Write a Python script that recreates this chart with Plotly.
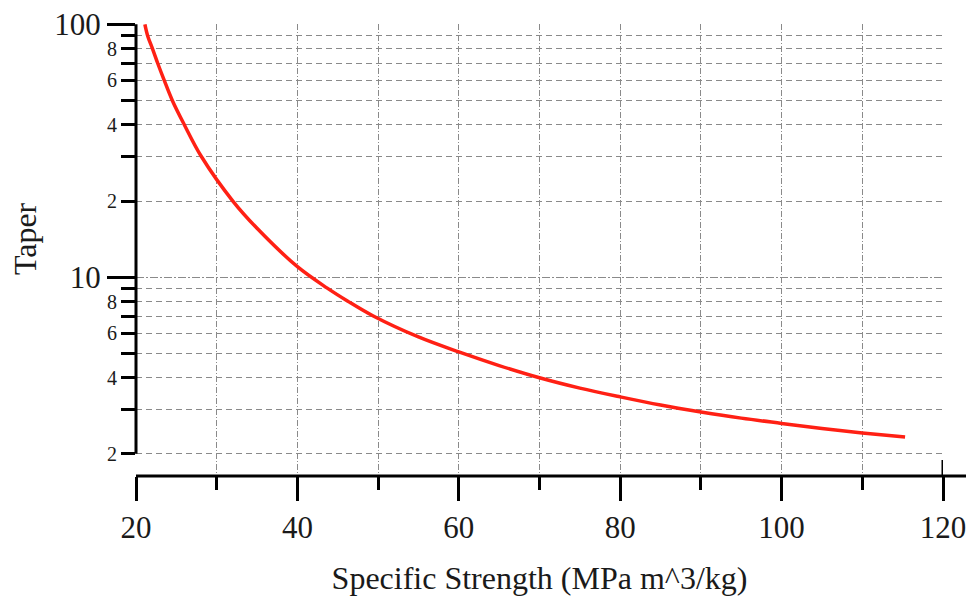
import math
import plotly.graph_objects as go

# ---- data ----
specific_strength = [21.1, 21.45, 22.05, 22.7, 23.5, 24.5, 26.0, 28.1, 32.0, 35, 40,
                     43.7, 46.2, 49.4, 55, 60, 65, 70, 75, 80, 85, 90, 95, 100, 105, 110, 115.3]
taper = [100, 90, 80, 70, 60, 50, 40, 30, 20, 15.6, 11.0,
         9.05, 8.05, 7.02, 5.8, 5.06, 4.47, 4.0, 3.64, 3.36, 3.12, 2.93, 2.77, 2.64, 2.52, 2.42, 2.33]

x_major_ticks = [20, 40, 60, 80, 100, 120]
x_minor_ticks = [30, 40, 50, 60, 70, 80, 90, 100, 110]
y_major_ticks = [10, 100]
y_major_labels = ["10", "100"]
y_minor_ticks = [2, 3, 4, 5, 6, 7, 8, 9, 20, 30, 40, 50, 60, 70, 80, 90]
y_minor_labels = ["2", "", "4", "", "6", "", "8", "", "2", "", "4", "", "6", "", "8", ""]

x_title = "Specific Strength (MPa m^3/kg)"
y_title = "Taper"

# ---- layout constants (page body has an 8px margin) ----
OFF = 8
W, H = 974 - OFF, 599 - OFF
ML, MR, MT, MB = 136 - OFF, 31, 24 - OFF, 123
Y_LOW, Y_HIGH = 1.635, 100.3
y_range = [math.log10(Y_LOW), math.log10(Y_HIGH)]
FONT = "Liberation Serif, Times New Roman, serif"
TXT = "#1a1a1a"
GRID = "#8a8a8a"
plot_w = W - ML - MR
plot_h = H - MT - MB

fig = go.Figure()
fig.add_trace(go.Scatter(
    x=specific_strength, y=taper, mode="lines",
    line=dict(color="rgb(255,32,20)", width=3.5, shape="spline", smoothing=1.0),
    showlegend=False, hoverinfo="x+y",
))
# invisible companion trace so the overlaid major-tick axis is drawn
fig.add_trace(go.Scatter(
    x=specific_strength, y=taper, yaxis="y2", mode="lines",
    line=dict(width=0), opacity=0, showlegend=False, hoverinfo="skip",
))

fig.update_layout(
    width=W, height=H,
    margin=dict(l=ML, r=MR, t=MT, b=MB, autoexpand=False),
    paper_bgcolor="white", plot_bgcolor="white",
    font=dict(family=FONT, color=TXT),
    xaxis=dict(
        range=[20, 120], showline=False, zeroline=False, showgrid=False, automargin=False,
        tickmode="array", tickvals=x_major_ticks,
        ticks="outside", ticklen=24, tickwidth=3, tickcolor="black",
        tickfont=dict(size=31, family=FONT, color=TXT),
        minor=dict(tickmode="array", tickvals=x_minor_ticks, ticks="outside",
                   ticklen=13, tickwidth=3, tickcolor="black",
                   showgrid=True, gridcolor=GRID, gridwidth=1, griddash="6px,2px,1px,2px"),
        title=dict(text=x_title, font=dict(size=32, family=FONT, color=TXT), standoff=22),
    ),
    yaxis=dict(
        type="log", range=y_range, showline=False, zeroline=False, automargin=False,
        tickmode="array", tickvals=y_minor_ticks, ticktext=y_minor_labels,
        ticks="outside", ticklen=14, tickwidth=3, tickcolor="black",
        tickfont=dict(size=20, family=FONT, color=TXT),
        showgrid=True, gridcolor=GRID, gridwidth=1, griddash="6px,4px",
    ),
    yaxis2=dict(
        type="log", range=y_range, overlaying="y", side="left", anchor="x",
        showline=False, zeroline=False, automargin=False,
        tickmode="array", tickvals=y_major_ticks, ticktext=y_major_labels,
        ticks="outside", ticklen=28, tickwidth=3, tickcolor="black",
        tickfont=dict(size=31, family=FONT, color=TXT),
        ticklabeloverflow="allow",
        showgrid=True, gridcolor=GRID, gridwidth=1, griddash="8px,2px,2px,2px",
    ),
)


def ypaper(v):
    """paper fraction of a value on the log y axis"""
    return (math.log10(v) - y_range[0]) / (y_range[1] - y_range[0])


# y axis line spanning the tick range
fig.add_shape(type="line", xref="paper", yref="paper",
              x0=0, x1=0, y0=ypaper(min(y_minor_ticks)), y1=ypaper(max(y_major_ticks)),
              line=dict(color="black", width=3))
# x axis line extending past the last tick to the right edge
fig.add_shape(type="line", xref="paper", yref="paper",
              x0=0, x1=1 + MR / plot_w, y0=0, y1=0,
              line=dict(color="black", width=3))
# upward part of the crossing tick at the last x value
fig.add_shape(type="line", xref="x", yref="paper",
              x0=max(x_major_ticks), x1=max(x_major_ticks), y0=0, y1=16 / plot_h,
              line=dict(color="black", width=3))

# y title
fig.add_annotation(text=y_title, xref="paper", yref="paper", showarrow=False,
                   x=-(ML - (25 - OFF)) / plot_w, xanchor="center",
                   y=(ypaper(min(y_minor_ticks)) + ypaper(max(y_major_ticks))) / 2,
                   yanchor="middle",
                   textangle=-90, font=dict(size=32, family=FONT, color=TXT))

fig.write_html("out.html")
